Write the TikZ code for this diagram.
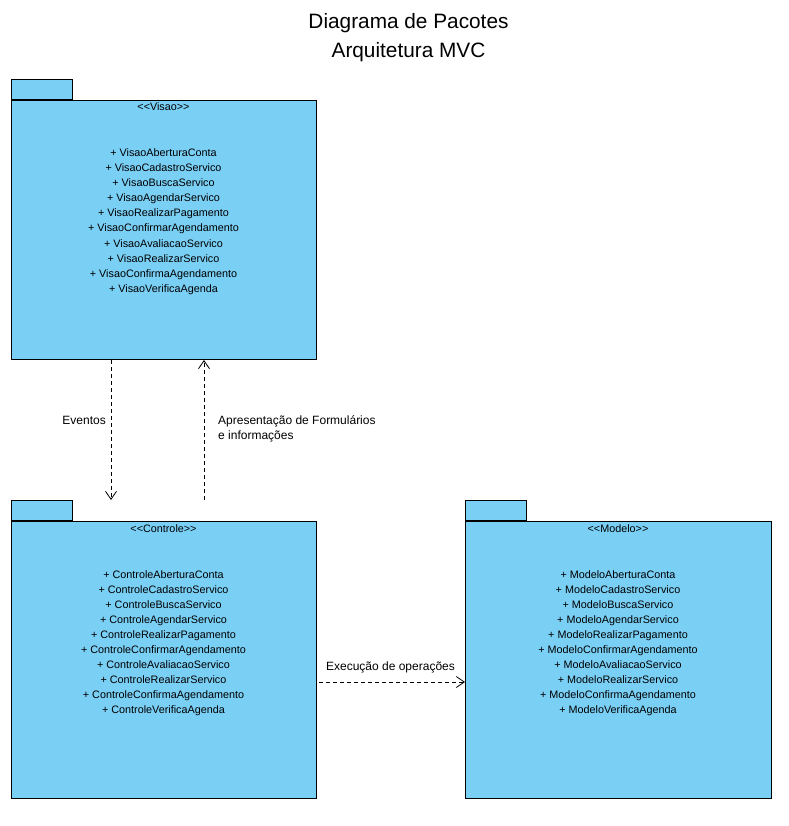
\documentclass[tikz,border=0pt]{standalone}
\usepackage{fontspec}
\setmainfont{Liberation Sans}
\usetikzlibrary{arrows.meta}
\definecolor{pkgfill}{RGB}{122,207,245}
\begin{document}
\begin{tikzpicture}[x=1pt,y=-1pt,
  pkgbody/.style={draw=black,fill=pkgfill,line width=1pt,rectangle,inner sep=0pt,anchor=north west},
  pkgtab/.style={draw=black,fill=pkgfill,line width=1pt,rectangle,inner sep=0pt,anchor=south west,minimum width=61pt,minimum height=20pt},
  stereo/.style={font=\fontsize{10.8}{12}\selectfont,anchor=base,inner sep=0pt},
  item/.style={font=\fontsize{10.8}{13}\selectfont,anchor=base,inner sep=0pt},
  lbl/.style={font=\fontsize{12}{15}\selectfont,inner sep=0pt},
  ttl/.style={font=\fontsize{20.8}{24}\selectfont,anchor=base,inner sep=0pt},
  dep/.style={line width=0.8pt,dash pattern=on 4pt off 3pt,-{Straight Barb[length=8pt,width=11pt,line width=0.8pt]}}]
\useasboundingbox (0,0) rectangle (788,826);
\fill[white] (0,0) rectangle (788,826);

% Title
\node[ttl] (t1) at (408.5,29) {Diagrama de Pacotes};
\node[ttl] (t2) at (408.5,57.5) {Arquitetura MVC};

% Visao package
\node[pkgtab] (visaotab) at (11,100) {};
\node[pkgbody,minimum width=305pt,minimum height=259pt] (visao) at (11,100) {};
\node[stereo] (visaost) at (163.5,111) {<{}<Visao>{}>};
\foreach \t [count=\i] in {AberturaConta,CadastroServico,BuscaServico,AgendarServico,RealizarPagamento,ConfirmarAgendamento,AvaliacaoServico,RealizarServico,ConfirmaAgendamento,VerificaAgenda}
  \node[item] (vi\i) at (163.5,{157+15*(\i-1)}) {+ Visao\t};

% Controle package
\node[pkgtab] (controletab) at (11,521) {};
\node[pkgbody,minimum width=305pt,minimum height=277pt] (controle) at (11,521) {};
\node[stereo] (controlest) at (163.5,532) {<{}<Controle>{}>};
\foreach \t [count=\i] in {AberturaConta,CadastroServico,BuscaServico,AgendarServico,RealizarPagamento,ConfirmarAgendamento,AvaliacaoServico,RealizarServico,ConfirmaAgendamento,VerificaAgenda}
  \node[item] (ci\i) at (163.5,{578+15*(\i-1)}) {+ Controle\t};

% Modelo package
\node[pkgtab] (modelotab) at (465,521) {};
\node[pkgbody,minimum width=306pt,minimum height=277pt] (modelo) at (465,521) {};
\node[stereo] (modelost) at (618,532) {<{}<Modelo>{}>};
\foreach \t [count=\i] in {AberturaConta,CadastroServico,BuscaServico,AgendarServico,RealizarPagamento,ConfirmarAgendamento,AvaliacaoServico,RealizarServico,ConfirmaAgendamento,VerificaAgenda}
  \node[item] (mi\i) at (618,{578+15*(\i-1)}) {+ Modelo\t};

% Connectors
\draw[dep] ([xshift=100pt]visao.south west) -- ([xshift=100pt,yshift=21pt]controle.north west);
\draw[dep] ([xshift=193pt,yshift=21pt]controle.north west) -- ([xshift=193pt]visao.south west);
\draw[dep] ([xshift=2pt,yshift=-22pt]controle.east) -- ([yshift=-22pt]modelo.west);

% Labels
\node[lbl,anchor=base east] (lev) at (106,424) {Eventos};
\node[lbl,anchor=base west] (lap1) at (218,424) {Apresentação de Formulários};
\node[lbl,anchor=base west] (lap2) at (218,439.5) {e informações};
\node[lbl,anchor=base] (lex) at (390.5,670) {Execução de operações};
\end{tikzpicture}
\end{document}
